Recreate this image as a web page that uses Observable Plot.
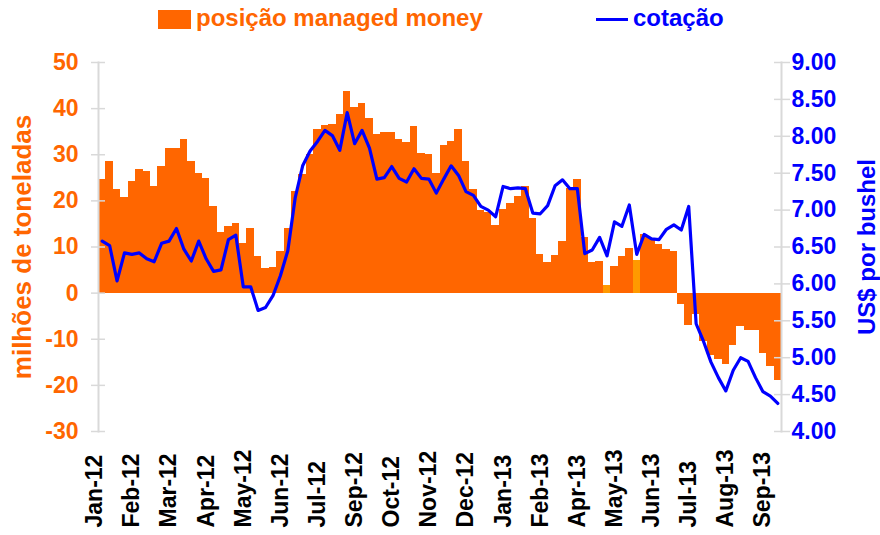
<!DOCTYPE html>
<html><head><meta charset="utf-8">
<script src="https://cdn.jsdelivr.net/npm/d3@7"></script>
<script src="https://cdn.jsdelivr.net/npm/@observablehq/plot@0.6"></script>
<style>
body{margin:0;background:#fff;font-family:"Liberation Sans",Arial,sans-serif;}
#wrap{position:relative;width:880px;height:535px;overflow:hidden;}
#legend{position:relative;height:40px;width:880px;}
.lg{position:absolute;font-weight:bold;font-size:24px;white-space:nowrap;}
</style></head><body>
<div id="wrap">
<div id="legend">
  <div style="position:absolute;left:158px;top:10px;width:33px;height:19px;background:#FF6600"></div>
  <div class="lg" style="left:196px;top:4px;color:#FF6600">posição managed money</div>
  <div style="position:absolute;left:596px;top:18px;width:32px;height:3px;background:#0000FF"></div>
  <div class="lg" style="left:633px;top:4px;color:#0000FF">cotação</div>
</div>
<div id="chart"></div>
</div>
<script>
const tickLabels = ["Jan-12","Feb-12","Mar-12","Apr-12","May-12","Jun-12","Jul-12","Sep-12","Oct-12","Nov-12","Dec-12","Jan-13","Feb-13","Apr-13","May-13","Jun-13","Jul-13","Aug-13","Sep-13"];
// weekly net position of managed money (million tonnes)
const position = [24.7,28.6,22.5,20.8,24.2,26.9,26.4,23.1,27.4,31.3,
  31.3,33.3,28.6,25.9,24.9,18.8,13.1,14.5,15.1,10.8,
  14.0,7.9,5.3,5.5,9.0,14.0,22.0,25.7,30.0,35.5,
  36.3,36.6,38.7,43.7,40.2,41.1,37.9,34.4,34.8,34.8,
  33.2,32.7,36.1,30.3,30.0,25.9,32.0,32.9,35.5,28.6,
  22.5,17.9,17.5,14.7,18.1,19.5,20.9,23.1,16.2,8.4,
  6.6,8.1,11.2,22.6,24.6,12.0,6.6,6.8,1.6,5.7,
  7.9,9.6,7.0,12.7,11.8,10.5,9.5,9.1,-2.4,-7.0,
  -4.6,-10.4,-13.6,-14.3,-15.5,-11.4,-7.2,-8.0,-8.0,-13.0,
  -15.8,-19.0];
// weekly price (US$ per bushel)
const price = [6.58,6.52,6.04,6.42,6.40,6.42,6.34,6.30,6.55,6.58,
  6.75,6.47,6.31,6.58,6.34,6.17,6.19,6.60,6.66,5.96,
  5.96,5.64,5.68,5.84,6.11,6.45,7.17,7.60,7.80,7.93,
  8.08,8.01,7.81,8.32,7.90,8.08,7.84,7.42,7.44,7.59,
  7.43,7.38,7.56,7.43,7.42,7.23,7.42,7.60,7.47,7.25,
  7.20,7.05,7.00,6.91,7.32,7.29,7.30,7.29,6.96,6.95,
  7.06,7.33,7.41,7.29,7.29,6.41,6.46,6.63,6.38,6.84,
  6.78,7.07,6.40,6.67,6.61,6.60,6.74,6.80,6.73,7.05,
  5.46,5.22,4.94,4.73,4.55,4.83,5.00,4.95,4.73,4.54,
  4.48,4.38];
const highlightWeeks = [68, 72];
const leftTicks = [-30,-20,-10,0,10,20,30,40,50];
const rightTicks = [4,4.5,5,5.5,6,6.5,7,7.5,8,8.5,9];
const leftTitle = "milhões de toneladas";
const rightTitle = "US$ por bushel";

const weeks = d3.range(position.length);
const tickWeeks = weeks.filter(i => i % 5 === 0).slice(0, tickLabels.length);
const data = weeks.map(i => ({week: i, position: position[i], price: price[i], hl: highlightWeeks.includes(i)}));

// map right-axis price onto the left axis domain
const toLeft = p => -30 + (p - 4) * 16;
const fromLeft = v => 4 + (v + 30) / 16;

const orange = "#FF6600", light = "#FF9900", blue = "#0000FF", axisGray = "#D9D9D9";
const tickFont = {fontSize: 23, fontWeight: "bold"};

const chart = Plot.plot({
  width: 880,
  height: 495,
  marginLeft: 98,
  marginRight: 99,
  marginTop: 22,
  marginBottom: 104,
  style: {fontFamily: "'Liberation Sans', Arial, sans-serif", background: "#fff", overflow: "visible"},
  x: {type: "band", domain: weeks, padding: 0, axis: null},
  y: {domain: [-30, 50], axis: null},
  marks: [
    Plot.barY(data, {x: "week", y: "position", fill: d => d.hl ? light : orange, shapeRendering: "crispEdges"}),
    Plot.line(data, {x: "week", y: d => toLeft(d.price), stroke: blue, strokeWidth: 3.2, strokeLinejoin: "round"}),
    Plot.frame({anchor: "left", stroke: axisGray, strokeWidth: 2}),
    Plot.frame({anchor: "right", stroke: axisGray, strokeWidth: 2}),
    Plot.axisY({anchor: "left", ticks: leftTicks, tickSize: 14, dx: 7, tickFormat: () => "", stroke: axisGray, strokeWidth: 1.5, label: null}),
    Plot.axisY({anchor: "right", ticks: rightTicks.map(toLeft), tickSize: 16, dx: -8, tickFormat: () => "", stroke: axisGray, strokeWidth: 1.5, label: null}),
    Plot.axisY({anchor: "left", ticks: leftTicks, tickSize: 0, tickPadding: 20, tickFormat: d => String(d), fill: orange, ...tickFont, label: null}),
    Plot.axisY({anchor: "right", ticks: rightTicks.map(toLeft), tickSize: 0, tickPadding: 10, tickFormat: v => fromLeft(v).toFixed(2), fill: blue, ...tickFont, label: null}),
    Plot.text([leftTitle], {text: d => d, frameAnchor: "left", textAnchor: "middle", rotate: -90, dx: -76, fill: orange, fontSize: 26, fontWeight: "bold"}),
    Plot.text([rightTitle], {text: d => d, frameAnchor: "right", textAnchor: "middle", rotate: -90, dx: 86, fill: blue, fontSize: 24, fontWeight: "bold"}),
    Plot.text(tickWeeks, {x: d => d, text: (d, i) => tickLabels[i], frameAnchor: "bottom", rotate: -90, textAnchor: "start", dy: 96, fill: "#000", ...tickFont})
  ]
});
document.getElementById("chart").appendChild(chart);
</script>
</body></html>
